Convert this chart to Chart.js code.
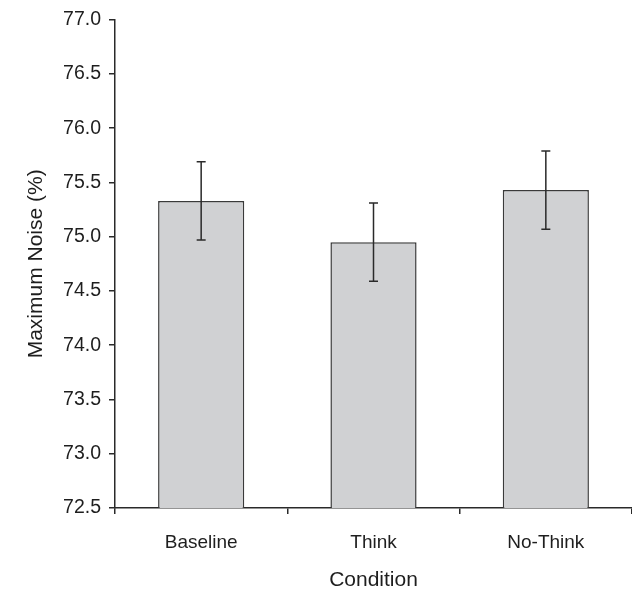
<!DOCTYPE html>
<html>
<head>
<meta charset="utf-8">
<script src="https://cdn.jsdelivr.net/npm/chart.js@4.4.1/dist/chart.umd.min.js"></script>
<style>
  html, body { margin: 0; padding: 0; background: #fff; }
  #wrap { width: 632px; height: 593px; position: relative; }
</style>
</head>
<body>
<div id="wrap"><canvas id="chart"></canvas></div>
<script>
// Mean maximum noise level per condition, with error bar half-widths
const conditions = ['Baseline', 'Think', 'No-Think'];
const meanNoise = [75.33, 74.95, 75.43];
const errorHalf = [0.36, 0.36, 0.36];
const yMin = 72.5;
const yMax = 77.0;
const yStep = 0.5;

const inkColor = '#2a2a2a';
const textColor = '#1e1e1e';
const fontFamily = '"Liberation Sans", Arial, Helvetica, sans-serif';

// Draws vertical error bars with caps centred on each bar
const errorBars = {
  id: 'errorBars',
  afterDatasetsDraw(chart) {
    const ctx = chart.ctx;
    const meta = chart.getDatasetMeta(0);
    const y = chart.scales.y;
    ctx.save();
    ctx.strokeStyle = inkColor;
    ctx.lineWidth = 1.5;
    meta.data.forEach((bar, i) => {
      const x = bar.x;
      const top = y.getPixelForValue(meanNoise[i] + errorHalf[i]);
      const bot = y.getPixelForValue(meanNoise[i] - errorHalf[i]);
      const cap = 4.5;
      ctx.beginPath();
      ctx.moveTo(x, top); ctx.lineTo(x, bot);
      ctx.moveTo(x - cap, top); ctx.lineTo(x + cap, top);
      ctx.moveTo(x - cap, bot); ctx.lineTo(x + cap, bot);
      ctx.stroke();
    });
    ctx.restore();
  }
};

new Chart(document.getElementById('chart'), {
  type: 'bar',
  data: {
    labels: conditions,
    datasets: [{
      data: meanNoise,
      backgroundColor: '#d0d1d3',
      borderColor: '#3a3a3a',
      borderWidth: 1.5,
      barPercentage: 0.5,
      categoryPercentage: 1.0
    }]
  },
  options: {
    responsive: true,
    maintainAspectRatio: false,
    animation: false,
    layout: { padding: { top: 19, right: 0, left: 0, bottom: 0 } },
    plugins: {
      legend: { display: false },
      tooltip: { enabled: false }
    },
    scales: {
      x: {
        grid: {
          display: true,
          drawOnChartArea: false,
          drawTicks: true,
          tickLength: 6,
          color: inkColor,
          lineWidth: 1.5,
          offset: true
        },
        border: { display: true, color: inkColor, width: 1.5 },
        ticks: {
          color: textColor,
          font: { family: fontFamily, size: 19 },
          padding: 17
        },
        title: {
          display: true,
          text: 'Condition',
          color: textColor,
          font: { family: fontFamily, size: 21 },
          padding: { top: 5, bottom: 0 }
        },
        afterFit(scale) { scale.height = 85; }
      },
      y: {
        min: yMin,
        max: yMax,
        grid: {
          display: true,
          drawOnChartArea: false,
          drawTicks: true,
          tickLength: 6,
          color: inkColor,
          lineWidth: 1.5
        },
        border: { display: true, color: inkColor, width: 1.5 },
        ticks: {
          stepSize: yStep,
          color: textColor,
          font: { family: fontFamily, size: 19.5 },
          padding: 8,
          callback: (v) => Number(v).toFixed(1)
        },
        title: {
          display: true,
          text: 'Maximum Noise (%)',
          color: textColor,
          font: { family: fontFamily, size: 21 },
          padding: { top: 24, bottom: 0 }
        },
        afterFit(scale) { scale.width = 115; }
      }
    }
  },
  plugins: [errorBars]
});
</script>
</body>
</html>
